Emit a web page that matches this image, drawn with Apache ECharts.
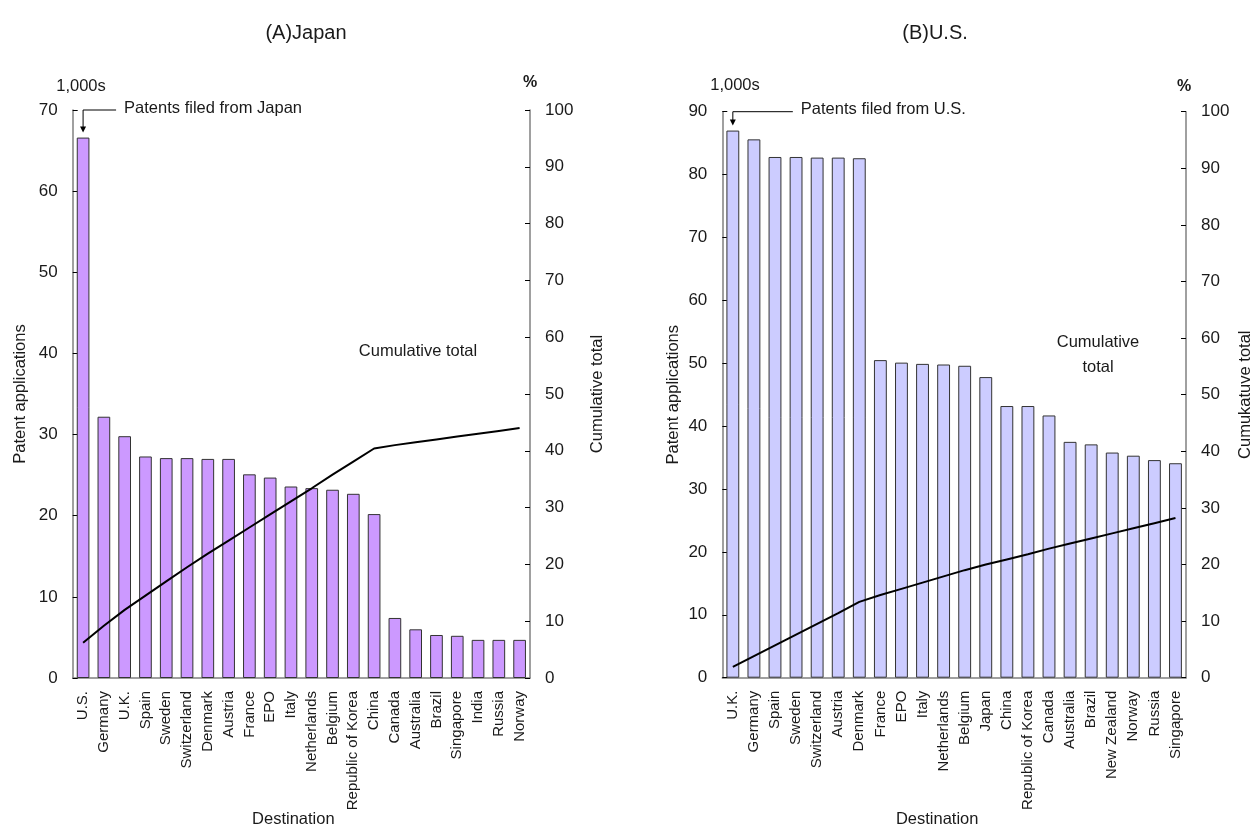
<!DOCTYPE html>
<html>
<head>
<meta charset="utf-8">
<script src="https://cdn.jsdelivr.net/npm/echarts@6/dist/echarts.min.js"></script>
<style>
html,body{margin:0;padding:0;background:#fff;}
#main{width:1254px;height:829px;}
</style>
</head>
<body>
<div id="main"></div>
<script>
// ---------- data ----------
var jpCategories = ['U.S.','Germany','U.K.','Spain','Sweden','Switzerland','Denmark','Austria','France','EPO','Italy','Netherlands','Belgium','Republic of Korea','China','Canada','Australia','Brazil','Singapore','India','Russia','Norway'];
var jpPatents = [66.6, 32.2, 29.8, 27.3, 27.1, 27.1, 27.0, 27.0, 25.1, 24.7, 23.6, 23.4, 23.2, 22.7, 20.2, 7.4, 6.0, 5.3, 5.2, 4.7, 4.7, 4.7];
var jpCumulative = [6.2, 9.2, 12.0, 14.5, 17.0, 19.5, 21.9, 24.2, 26.5, 28.8, 31.1, 33.4, 35.8, 38.1, 40.4, 41.0, 41.5, 42.0, 42.5, 43.0, 43.5, 44.0];

var usCategories = ['U.K.','Germany','Spain','Sweden','Switzerland','Austria','Denmark','France','EPO','Italy','Netherlands','Belgium','Japan','China','Republic of Korea','Canada','Australia','Brazil','New Zealand','Norway','Russia','Singapore'];
var usPatents = [87.0, 85.6, 82.8, 82.8, 82.7, 82.7, 82.6, 50.5, 50.1, 49.9, 49.8, 49.6, 47.8, 43.2, 43.2, 41.7, 37.5, 37.1, 35.8, 35.3, 34.6, 34.1];
var usCumulative = [1.9, 3.8, 5.7, 7.6, 9.5, 11.4, 13.4, 14.6, 15.7, 16.8, 17.9, 19.0, 20.0, 20.9, 21.8, 22.8, 23.7, 24.6, 25.5, 26.4, 27.3, 28.2];

var leftTicks = {jp: {min: 0, max: 70, interval: 10}, us: {min: 0, max: 90, interval: 10}};
var pctTicks = {min: 0, max: 100, interval: 10};

// ---------- style ----------
var FONT = "'Liberation Sans Narrow','Arial Narrow','Liberation Sans',Arial,sans-serif";
var TXT = '#1a1a1a';
var AXIS = '#808080';
var NAME_SIZE = 16.5;

function valueAxis(grid, range, name, pos, nameGap) {
  return {
    type: 'value', gridIndex: grid, position: pos,
    min: range.min, max: range.max, interval: range.interval,
    name: name, nameLocation: 'middle', nameGap: nameGap,
    nameTextStyle: {fontFamily: FONT, fontSize: NAME_SIZE, color: TXT},
    axisLine: {show: true, lineStyle: {color: AXIS, width: 1.5}},
    axisTick: {show: true, inside: true, length: 5, lineStyle: {color: '#000'}},
    axisLabel: {fontFamily: FONT, fontSize: 17, color: TXT, margin: 15},
    splitLine: {show: false}
  };
}
function catAxis(grid, cats, padRight) {
  return {
    type: 'category', gridIndex: grid, data: cats,
    name: 'Destination', nameLocation: 'middle', nameGap: 133, nameMoveOverlap: false,
    nameTextStyle: {fontFamily: FONT, fontSize: NAME_SIZE, color: TXT, padding: [0, padRight, 0, 0]},
    axisLine: {show: true, lineStyle: {color: AXIS, width: 1.5}},
    axisTick: {show: false},
    axisLabel: {fontFamily: FONT, fontSize: 15, color: TXT, rotate: 90, interval: 0, margin: 13}
  };
}

var chart = echarts.init(document.getElementById('main'), null, {renderer: 'canvas'});
var option = {
  backgroundColor: '#fff',
  animation: false,
  title: [
    {text: '(A)Japan', left: 301, top: 18, textAlign: 'center', textStyle: {fontFamily: FONT, fontSize: 20, fontWeight: 'normal', color: TXT}},
    {text: '(B)U.S.', left: 930, top: 18, textAlign: 'center', textStyle: {fontFamily: FONT, fontSize: 20, fontWeight: 'normal', color: TXT}}
  ],
  grid: [
    {left: 72.7, right: 724, top: 110, bottom: 151, containLabel: false, outerBoundsMode: 'none'},
    {left: 722.3, right: 68, top: 111.7, bottom: 151.3, containLabel: false, outerBoundsMode: 'none'}
  ],
  xAxis: [catAxis(0, jpCategories, 16), catAxis(1, usCategories, 34)],
  yAxis: [
    valueAxis(0, leftTicks.jp, 'Patent applications', 'left', 44),
    valueAxis(0, pctTicks, 'Cumulative total', 'right', 59),
    valueAxis(1, leftTicks.us, 'Patent applications', 'left', 40),
    valueAxis(1, pctTicks, 'Cumukatuve total', 'right', 51)
  ],
  series: [
    {type: 'bar', xAxisIndex: 0, yAxisIndex: 0, data: jpPatents, barWidth: '61%',
     itemStyle: {color: '#CC99FF', borderColor: '#333', borderWidth: 1}},
    {type: 'line', xAxisIndex: 0, yAxisIndex: 1, data: jpCumulative, showSymbol: false,
     lineStyle: {color: '#000', width: 2}},
    {type: 'bar', xAxisIndex: 1, yAxisIndex: 2, data: usPatents, barWidth: '61%',
     itemStyle: {color: '#CCCCFF', borderColor: '#333', borderWidth: 1}},
    {type: 'line', xAxisIndex: 1, yAxisIndex: 3, data: usCumulative, showSymbol: false,
     lineStyle: {color: '#000', width: 2}}
  ]
};
chart.setOption(option);

// ---------- annotations placed from axis coordinates ----------
function callout(xi, yi, value, topValue, hLen, label) {
  var tip = chart.convertToPixel({xAxisIndex: xi, yAxisIndex: yi}, [0, value]);
  var top = chart.convertToPixel({xAxisIndex: xi, yAxisIndex: yi}, [0, topValue]);
  var x = tip[0], yTip = tip[1] - 5, yTop = top[1];
  return [
    {type: 'polyline', shape: {points: [[x + hLen, yTop], [x, yTop], [x, yTip - 5]]},
     style: {stroke: '#000', lineWidth: 1, fill: null}},
    {type: 'polygon', shape: {points: [[x - 3, yTip - 6], [x + 3, yTip - 6], [x, yTip]]},
     style: {fill: '#000'}},
    {type: 'text', x: x + hLen + 8, y: yTop - 2, style: {text: label, font: NAME_SIZE + 'px ' + FONT, fill: TXT, verticalAlign: 'middle', textAlign: 'left'}}
  ];
}
var g = [];
g = g.concat(callout(0, 0, jpPatents[0], leftTicks.jp.max, 33, 'Patents filed from Japan'));
g = g.concat(callout(1, 2, usPatents[0], leftTicks.us.max, 60, 'Patents filed from U.S.'));
g.push({type: 'text', x: 81, y: 86, style: {text: '1,000s', font: NAME_SIZE + 'px ' + FONT, fill: TXT, textAlign: 'center', verticalAlign: 'middle'}});
g.push({type: 'text', x: 530, y: 83, style: {text: '%', font: 'bold 16px ' + FONT, fill: TXT, textAlign: 'center', verticalAlign: 'middle'}});
g.push({type: 'text', x: 735, y: 85, style: {text: '1,000s', font: NAME_SIZE + 'px ' + FONT, fill: TXT, textAlign: 'center', verticalAlign: 'middle'}});
g.push({type: 'text', x: 1184, y: 87, style: {text: '%', font: 'bold 16px ' + FONT, fill: TXT, textAlign: 'center', verticalAlign: 'middle'}});
g.push({type: 'text', x: 418, y: 351, style: {text: 'Cumulative total', font: NAME_SIZE + 'px ' + FONT, fill: TXT, textAlign: 'center', verticalAlign: 'middle'}});
g.push({type: 'text', x: 1098, y: 355, style: {text: 'Cumulative\ntotal', font: NAME_SIZE + 'px ' + FONT, fill: TXT, textAlign: 'center', verticalAlign: 'middle', lineHeight: 25}});
chart.setOption({graphic: g});
</script>
</body>
</html>
